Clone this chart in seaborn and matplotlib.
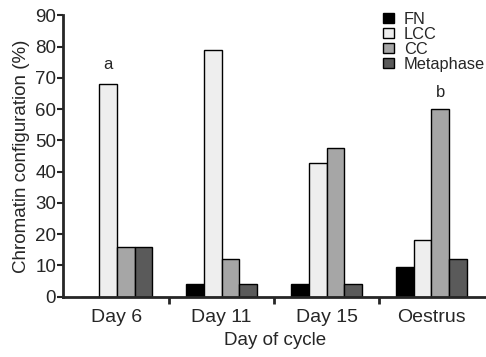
import matplotlib
matplotlib.use("Agg")
import matplotlib.pyplot as plt
import pandas as pd
import seaborn as sns

days = ["Day 6", "Day 11", "Day 15", "Oestrus"]
configs = ["FN", "LCC", "CC", "Metaphase"]
fn = [0, 4.2, 4.2, 9.6]
lcc = [68, 79, 42.8, 18]
cc = [16, 12.2, 47.5, 60]
metaphase = [16, 4.2, 4.2, 12.2]
colors = ["#000000", "#eeeeee", "#a6a6a6", "#5a5a5a"]

sns.set_style("ticks")
plt.rcParams["font.family"] = ["Liberation Sans", "DejaVu Sans"]

df = pd.DataFrame({
    "day": days * 4,
    "config": [c for c in configs for _ in days],
    "value": fn + lcc + cc + metaphase,
})

fig, ax = plt.subplots(figsize=(4.86, 3.57), dpi=100)
fig.subplots_adjust(left=0.13, right=1.0, bottom=0.169, top=0.957)

sns.barplot(data=df, x="day", y="value", hue="config", order=days,
            hue_order=configs, palette=colors, width=0.68, gap=0,
            edgecolor="black", linewidth=1, ax=ax, legend=False)

ax.set_xlim(-0.51, 3.52)
ax.set_ylim(0, 90)
ax.set_yticks(range(0, 91, 10))
ax.tick_params(axis="y", labelsize=13.5, length=4, width=1.5, pad=1)
ax.tick_params(axis="x", which="major", length=0, labelsize=14, pad=9)
ax.set_xticks([0.5, 1.5, 2.5], minor=True)
ax.tick_params(axis="x", which="minor", length=5, width=2)
for s in ["left", "bottom"]:
    ax.spines[s].set_linewidth(2)
sns.despine(ax=ax)

ax.set_xlabel("Day of cycle", fontsize=13.5, labelpad=4)
ax.set_ylabel("Chromatin configuration (%)", fontsize=13.5, labelpad=4)

ax.text(-0.085, 72, "a", ha="center", va="bottom", fontsize=12)
ax.text(3.085, 63, "b", ha="center", va="bottom", fontsize=12)

handles = [plt.Rectangle((0, 0), 1, 1, facecolor=c, edgecolor="black", linewidth=1)
           for c in colors]
ax.legend(handles, configs, loc="upper left", bbox_to_anchor=(0.772, 0.99),
          bbox_transform=fig.transFigure, frameon=False, fontsize=11.8,
          handlelength=0.65, handleheight=0.65, handletextpad=0.6,
          labelspacing=0.0, borderpad=0)

fig.savefig("out.png", dpi=100)
